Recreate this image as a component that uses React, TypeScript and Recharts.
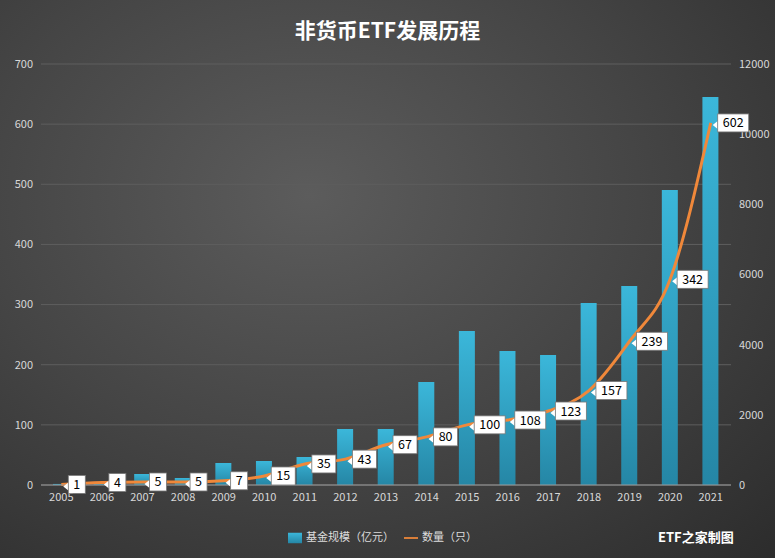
import { Bar, ComposedChart, Legend, Line, CartesianGrid, XAxis, YAxis } from "recharts"

const years = ["2005", "2006", "2007", "2008", "2009", "2010", "2011", "2012", "2013", "2014", "2015", "2016", "2017", "2018", "2019", "2020", "2021"]
const fundSize = [30, 85, 314, 200, 627, 684, 798, 1596, 1596, 2936, 4390, 3819, 3705, 5188, 5672, 8409, 11059]
const fundCount = [1, 4, 5, 5, 7, 15, 35, 43, 67, 80, 100, 108, 123, 157, 239, 342, 602]
const leftTicks = [0, 100, 200, 300, 400, 500, 600, 700]
const rightTicks = [0, 2000, 4000, 6000, 8000, 10000, 12000]

const data = years.map((year, i) => ({ year, size: fundSize[i], count: fundCount[i] }))

const CountLabel = (props: any) => {
	const { x, y, value } = props
	const text = String(value)
	const w = text.length * 7 + 10
	const left = x + 7
	return (
		<g>
			<path d={`M${x + 2},${y + 2} L${left},${y - 2} L${left},${y + 6} Z`} fill="#fff" />
			<rect x={left} y={y - 9} width={w} height={18} fill="#fff" stroke="#777" strokeWidth={0.8} />
			<text x={left + w / 2} y={y + 4.5} textAnchor="middle" fontSize={12.5} fill="#000">
				{text}
			</text>
		</g>
	)
}

export default function App() {
	return (
		<div
			style={{
				position: "absolute",
				left: 0,
				top: 0,
				width: 775,
				height: 558,
				background: "radial-gradient(ellipse at 40% 35%, #5c5c5c 0%, #454545 50%, #2c2c2c 100%)",
				fontFamily: "'Noto Sans CJK SC', 'Noto Sans', sans-serif"
			}}
		>
			<div style={{ position: "absolute", top: 14, width: 775, textAlign: "center", color: "#fff", fontSize: 21, fontWeight: "bold" }}>
				非货币ETF发展历程
			</div>
			<div style={{ position: "absolute", left: 658, top: 527, color: "#fff", fontSize: 13, fontWeight: "bold" }}>
				ETF之家制图
			</div>
			<ComposedChart width={775} height={558} data={data} margin={{ top: 64, right: 0, left: 0, bottom: 22 }}>
				<CartesianGrid vertical={false} stroke="#5e5e5e" yAxisId="left" />
				<XAxis
					dataKey="year"
					tick={{ fill: "#d8d8d8", fontSize: 11 }}
					axisLine={{ stroke: "#9a9a9a" }}
					tickLine={false}
					height={22}
				/>
				<YAxis
					yAxisId="left"
					domain={[0, 700]}
					ticks={leftTicks}
					tick={{ fill: "#d8d8d8", fontSize: 11 }}
					axisLine={false}
					tickLine={false}
					width={41}
				/>
				<YAxis
					yAxisId="right"
					orientation="right"
					domain={[0, 12000]}
					ticks={rightTicks}
					tick={{ fill: "#d8d8d8", fontSize: 11 }}
					axisLine={false}
					tickLine={false}
					width={44}
				/>
				<defs>
					<linearGradient id="barFill" x1="0" y1="0" x2="0" y2="1">
						<stop offset="0%" stopColor="#3bb7da" />
						<stop offset="100%" stopColor="#2586a5" />
					</linearGradient>
				</defs>
				<Legend
					verticalAlign="bottom"
					height={29}
					iconSize={14}
					wrapperStyle={{ fontSize: 11, color: "#ddd", top: 528, bottom: "auto" }}
					formatter={(v: string) => <span style={{ color: "#ddd" }}>{v}</span>}
				/>
				<Bar yAxisId="right" dataKey="size" name="基金规模（亿元）" fill="url(#barFill)" barSize={16} legendType="rect" isAnimationActive={false} />
				<Line
					yAxisId="left"
					type="monotone"
					dataKey="count"
					name="数量（只）"
					stroke="#f0883a"
					strokeWidth={3}
					dot={false}
					legendType="plainline"
					label={<CountLabel />}
					isAnimationActive={false}
				/>
			</ComposedChart>
		</div>
	)
}
